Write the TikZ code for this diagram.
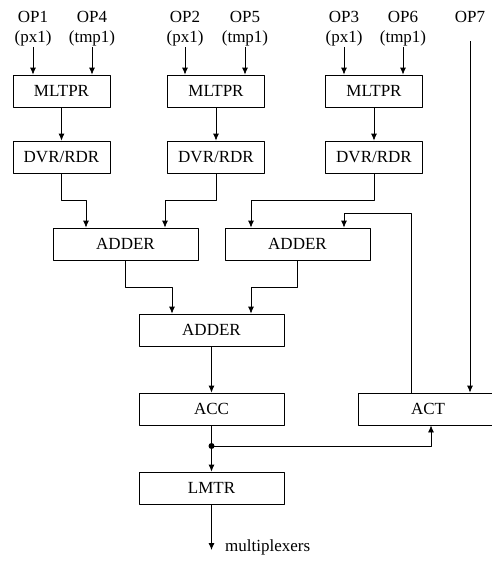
\documentclass[tikz,border=0pt]{standalone}
\usepackage{fontspec}
\setmainfont{Liberation Serif}
\usetikzlibrary{arrows.meta}

\begin{document}
\begin{tikzpicture}[x=1pt,y=-1pt,line join=round,
  font=\fontsize{17}{20}\selectfont,
  blk/.style={draw,line width=0.8pt,minimum height=32pt,inner sep=0pt},
  sblk/.style={blk,minimum width=97pt},
  wblk/.style={blk,minimum width=145pt},
  opin/.style={align=center,inner sep=1pt,anchor=south},
  wire/.style={line width=0.8pt,-{Latex[length=7pt,width=6pt]}}]

  \clip (0,0) rectangle (492,563);

  % ---- reference values (pixels, y down) ----
  \def\colA{61.5}   % first multiplier column
  \def\colB{216}    % second multiplier column
  \def\colC{374}    % third multiplier column
  \def\mulY{91}     % multiplier row
  \def\divY{157}    % divider row
  \def\addY{244}    % first adder row
  \def\sumY{330}    % second adder row
  \def\accY{409}    % accumulator / activation row
  \def\limY{488}    % limiter row

  % ---- operands ----
  \node[opin] (op1) at (33,47) {OP1\\(px1)};
  \node[opin] (op4) at (92,47) {OP4\\(tmp1)};
  \node[opin] (op2) at (185,47) {OP2\\(px1)};
  \node[opin] (op5) at (245,47) {OP5\\(tmp1)};
  \node[opin] (op3) at (344,47) {OP3\\(px1)};
  \node[opin] (op6) at (403,47) {OP6\\(tmp1)};
  \node[anchor=base] (op7) at (470,22) {OP7};
  \coordinate (op7end) at (470,41);

  % ---- multipliers and dividers ----
  \node[sblk] (m1) at (\colA,\mulY) {MLTPR};
  \node[sblk] (m2) at (\colB,\mulY) {MLTPR};
  \node[sblk] (m3) at (\colC,\mulY) {MLTPR};
  \node[sblk] (d1) at (\colA,\divY) {DVR/RDR};
  \node[sblk] (d2) at (\colB,\divY) {DVR/RDR};
  \node[sblk] (d3) at (\colC,\divY) {DVR/RDR};

  % ---- adders ----
  \node[wblk] (a1) at (125.5,\addY) {ADDER};
  \node[wblk] (a2) at (297.5,\addY) {ADDER};
  \node[wblk] (a3) at (211.5,\sumY) {ADDER};

  % ---- accumulator, activation, limiter ----
  \node[wblk] (acc) at (211.5,\accY) {ACC};
  \node[blk,minimum width=140pt] (act) at (428,\accY) {ACT};
  \node[wblk] (lmtr) at (211.5,\limY) {LMTR};
  \node[anchor=base west,inner sep=0pt] (mux) at (225,551) {multiplexers};
  \coordinate (out) at (211.5,550);
  \coordinate (tap) at (211.5,446);

  % ---- connectors ----
  \foreach \o/\m in {op1/m1,op4/m1,op2/m2,op5/m2,op3/m3,op6/m3}
    \draw[wire] (\o.south) -- (\o.south |- \m.north);
  \foreach \i in {1,2,3}
    \draw[wire] (m\i) -- (d\i);

  \draw[wire] (d1.south) -- ++(0,27) -| ([xshift=-39.5pt]a1.north);
  \draw[wire] (d2.south) -- ++(0,27) -| ([xshift=39.5pt]a1.north);
  \draw[wire] (d3.south) -- ++(0,27) -| ([xshift=-46.5pt]a2.north);
  \draw[wire] ([xshift=-17pt]act.north) -- ++(0,-179) -| ([xshift=46.5pt]a2.north);
  \draw[wire] (a1.south) -- ++(0,27) -| ([xshift=-39.5pt]a3.north);
  \draw[wire] (a2.south) -- ++(0,27) -| ([xshift=39.5pt]a3.north);
  \draw[wire] (a3) -- (acc);
  \draw[wire] (op7end) -- (op7end |- act.north);

  % ---- output tap ----
  \draw[line width=0.8pt] (acc.south) -- (tap);
  \draw[wire] (tap) -- (lmtr.north);
  \draw[wire] (tap) -| ([xshift=3pt]act.south);
  \fill (tap) circle (3);
  \draw[wire] (lmtr.south) -- (out);

\end{tikzpicture}
\end{document}
